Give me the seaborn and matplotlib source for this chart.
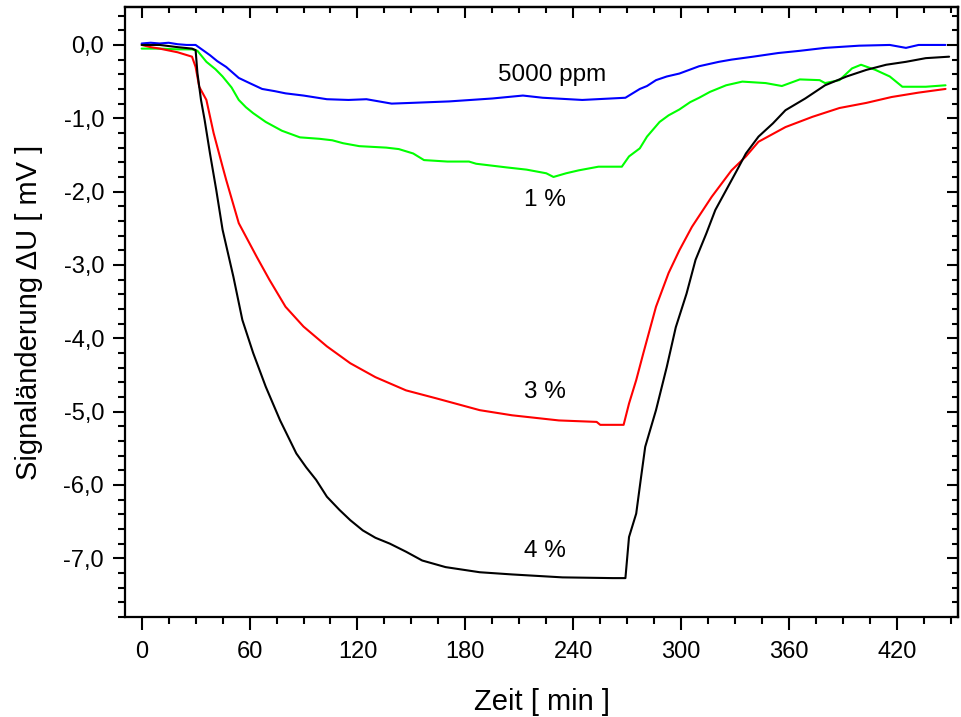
import numpy as np
import pandas as pd
import matplotlib
matplotlib.use("Agg")
import matplotlib.pyplot as plt
import seaborn as sns
from matplotlib.ticker import MultipleLocator, FixedLocator, FixedFormatter

# Signal change over time for four gas concentrations
blue_t = [0, 5, 10, 15, 20, 25, 30, 34, 38, 42, 47, 54, 60, 67, 74, 80, 90, 103, 115, 125, 139, 150,
          171, 195, 212, 223, 245, 269, 273, 277, 281, 286, 292, 299, 310, 321, 328, 340, 354, 366,
          380, 399, 416, 425, 432, 447]
blue_v = [0.02, 0.03, 0.02, 0.03, 0.01, 0.0, 0.0, -0.07, -0.14, -0.22, -0.30, -0.45, -0.52, -0.60,
          -0.63, -0.66, -0.69, -0.74, -0.75, -0.74, -0.80, -0.79, -0.77, -0.73, -0.69, -0.72, -0.75,
          -0.72, -0.66, -0.60, -0.56, -0.48, -0.43, -0.39, -0.29, -0.23, -0.20, -0.16, -0.11, -0.08,
          -0.04, -0.01, 0.0, -0.04, 0.0, 0.0]

green_t = [0, 10, 20, 28, 31, 36, 41, 45, 50, 54, 58, 62, 69, 78, 88, 99, 106, 112, 121, 136, 143,
           151, 157, 170, 182, 186, 203, 214, 225, 229, 236, 243, 254, 267, 271, 277, 281, 288, 293,
           299, 305, 310, 316, 325, 334, 347, 356, 366, 377, 380, 388, 395, 400, 408, 416, 423, 436, 447]
green_v = [-0.05, -0.05, -0.06, -0.06, -0.08, -0.23, -0.33, -0.43, -0.58, -0.75, -0.85, -0.93, -1.05,
           -1.17, -1.26, -1.28, -1.30, -1.34, -1.38, -1.40, -1.42, -1.48, -1.57, -1.59, -1.59, -1.62,
           -1.67, -1.70, -1.75, -1.80, -1.75, -1.71, -1.66, -1.66, -1.52, -1.41, -1.25, -1.05, -0.96,
           -0.88, -0.78, -0.72, -0.64, -0.55, -0.50, -0.52, -0.56, -0.47, -0.48, -0.52, -0.48, -0.32,
           -0.27, -0.34, -0.43, -0.57, -0.57, -0.55]

red_t = [0, 5, 10, 20, 28, 30, 32, 36, 40, 45, 47, 54, 64, 71, 80, 90, 103, 116, 130, 147, 164, 188,
         206, 232, 253, 255, 268, 271, 275, 279, 286, 293, 299, 306, 317, 328, 336, 343, 358, 373, 388,
         403, 417, 432, 447]
red_v = [0.0, -0.03, -0.05, -0.10, -0.16, -0.30, -0.57, -0.75, -1.20, -1.66, -1.84, -2.43, -2.89,
         -3.20, -3.57, -3.84, -4.11, -4.34, -4.53, -4.71, -4.82, -4.98, -5.05, -5.12, -5.14, -5.18,
         -5.18, -4.89, -4.57, -4.20, -3.57, -3.11, -2.80, -2.48, -2.07, -1.71, -1.52, -1.32, -1.12,
         -0.98, -0.86, -0.79, -0.71, -0.65, -0.60]

black_t = [0, 10, 20, 28, 30, 31, 33, 35, 38, 41.5, 45, 51, 56, 62, 69, 77, 86, 91.5, 97, 103, 110,
           116, 123, 130, 138, 147, 156, 169, 188, 206, 234, 262, 269, 271, 275, 277.5, 280, 286, 292,
           297, 303, 308, 314, 319, 325, 331, 336, 343, 351, 358, 369, 380, 392, 403, 414, 425, 436, 449]
black_v = [0.0, 0.0, -0.03, -0.05, -0.07, -0.38, -0.75, -1.02, -1.48, -1.98, -2.52, -3.16, -3.75,
           -4.20, -4.66, -5.12, -5.57, -5.76, -5.93, -6.16, -6.34, -6.48, -6.62, -6.72, -6.80, -6.91,
           -7.03, -7.12, -7.19, -7.22, -7.26, -7.27, -7.27, -6.71, -6.39, -5.93, -5.48, -4.98, -4.39,
           -3.85, -3.39, -2.93, -2.57, -2.25, -1.98, -1.71, -1.48, -1.25, -1.07, -0.89, -0.73, -0.55,
           -0.43, -0.34, -0.27, -0.23, -0.18, -0.16]

series = [("5000 ppm", blue_t, blue_v, "#0000ff"),
          ("1 %", green_t, green_v, "#00ff00"),
          ("3 %", red_t, red_v, "#ff0000"),
          ("4 %", black_t, black_v, "#000000")]

labels_txt = ["5000 ppm", "1 %", "3 %", "4 %"]
labels_x = [228, 224, 224, 224]
labels_y = [-0.41, -2.11, -4.73, -6.90]

x_ticks = [0, 60, 120, 180, 240, 300, 360, 420]
y_ticks = [0, -1, -2, -3, -4, -5, -6, -7]
y_ticklabels = ["0,0", "-1,0", "-2,0", "-3,0", "-4,0", "-5,0", "-6,0", "-7,0"]

sns.set_style("ticks")
plt.rcParams['font.family'] = ['Liberation Sans', 'DejaVu Sans']
plt.rcParams.update({"text.color": "black", "axes.labelcolor": "black",
                     "xtick.color": "black", "ytick.color": "black",
                     "axes.edgecolor": "black"})

fig = plt.figure(figsize=(9.61, 7.17), dpi=100)
ax = fig.add_axes([0.130, 0.1395, 0.867, 0.851])

for name, t, v, c in series:
    df = pd.DataFrame({"t": t, "v": v})
    sns.lineplot(data=df, x="t", y="v", color=c, linewidth=1.5, sort=False, estimator=None, ax=ax)

for txt, tx, ty in zip(labels_txt, labels_x, labels_y):
    ax.text(tx, ty, txt, fontsize=17.5, ha="center", va="center", color="black")

ax.set_xlim(-9.3, 454)
ax.set_ylim(-7.8, 0.52)

ax.xaxis.set_major_locator(FixedLocator(x_ticks))
ax.xaxis.set_minor_locator(MultipleLocator(15))
ax.yaxis.set_major_locator(FixedLocator(y_ticks))
ax.yaxis.set_major_formatter(FixedFormatter(y_ticklabels))
ax.yaxis.set_minor_locator(MultipleLocator(0.2))

ax.tick_params(which="major", direction="out", length=9, width=1.5, labelsize=17, pad=6,
               color="black", labelcolor="black")
ax.tick_params(axis="x", which="major", pad=8)
ax.tick_params(which="minor", direction="out", length=5, width=1.5, color="black")
ax.tick_params(top=False, right=False, which="both")

for s in ax.spines.values():
    s.set_linewidth(1.6)
    s.set_color("black")

# inward ticks on top and right
sec_x = ax.secondary_xaxis("top")
sec_x.xaxis.set_major_locator(FixedLocator(x_ticks))
sec_x.xaxis.set_minor_locator(MultipleLocator(15))
sec_x.tick_params(which="major", direction="in", length=8, width=1.5, labeltop=False, color="black")
sec_x.tick_params(which="minor", direction="in", length=4.5, width=1.5, color="black")
sec_y = ax.secondary_yaxis("right")
sec_y.yaxis.set_major_locator(FixedLocator(y_ticks))
sec_y.yaxis.set_minor_locator(MultipleLocator(0.2))
sec_y.tick_params(which="major", direction="in", length=8, width=1.5, labelright=False, color="black")
sec_y.tick_params(which="minor", direction="in", length=4.5, width=1.5, color="black")
for s in (sec_x.spines["top"], sec_y.spines["right"]):
    s.set_linewidth(1.6)
    s.set_color("black")

ax.set_xlabel("Zeit [ min ]", fontsize=21, labelpad=18, color="black")
ax.set_ylabel("Signaländerung ΔU [ mV ]", fontsize=21, labelpad=15, color="black")

fig.savefig("out.png", dpi=100)
